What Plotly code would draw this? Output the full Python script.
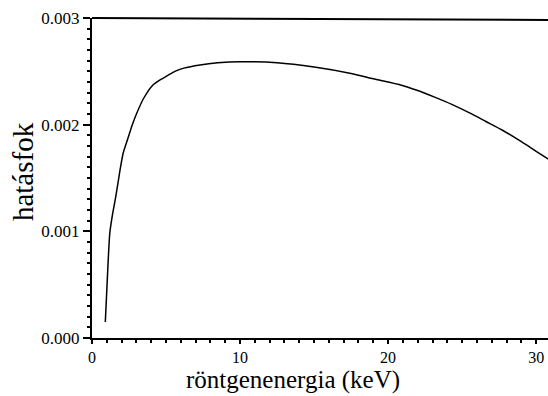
import plotly.graph_objects as go

energy_kev = [0.9, 1.0, 1.2, 1.4, 1.6, 1.9, 2.1, 2.4, 2.7, 3.0, 3.5, 4.1, 4.6, 5.1, 5.6, 6.2, 7.3, 8.5, 10.0, 12.5, 15.0, 17.5, 19.0, 20.9, 22.0, 23.1, 24.3, 25.5, 26.6, 27.7, 29.0, 30.0, 30.9]
efficiency = [0.00015, 0.00045, 0.00098, 0.00117, 0.00132, 0.00158, 0.00173, 0.00186, 0.00199, 0.00210, 0.00225, 0.00237, 0.00242, 0.00246, 0.00250, 0.00253, 0.00256, 0.00258, 0.00259, 0.00258, 0.00254, 0.00248, 0.00243, 0.00237, 0.00232, 0.00226, 0.00219, 0.00211, 0.00203, 0.00195, 0.00184, 0.00175, 0.00167]

x_tick_step = 10
y_tick_step = 0.001
x_title = "röntgenenergia (keV)"
y_title = "hatásfok"

fig = go.Figure()
fig.add_trace(go.Scatter(x=energy_kev, y=efficiency, mode="lines",
                         line=dict(color="black", width=1.5, shape="spline", smoothing=0.6),
                         showlegend=False))

FAM = "Liberation Serif, Times New Roman, serif"

fig.update_layout(
    width=548, height=396,
    margin=dict(l=92, r=0, t=18, b=58),
    paper_bgcolor="white", plot_bgcolor="white",
    font=dict(family=FAM, color="black", size=17),
)
fig.update_xaxes(range=[0, 30.8], tick0=0, dtick=x_tick_step,
                 showgrid=False, zeroline=False, showline=True, linecolor="black", linewidth=2,
                 ticks="outside", ticklen=4, tickwidth=1.5, tickcolor="black",
                 tickfont=dict(size=16, family=FAM, color="black"),
                 minor=dict(dtick=1, ticks="outside", ticklen=3, tickwidth=1.5, tickcolor="black", showgrid=False))
fig.update_yaxes(range=[0, 0.003], tick0=0, dtick=y_tick_step, tickformat=".3f",
                 showgrid=False, zeroline=False, showline=True, linecolor="black", linewidth=2,
                 ticks="outside", ticklen=7, tickwidth=1.5, tickcolor="black",
                 tickfont=dict(size=17, family=FAM, color="black"),
                 minor=dict(dtick=0.0001, ticks="outside", ticklen=3, tickwidth=1.5, tickcolor="black", showgrid=False))
fig.add_shape(type="line", xref="paper", yref="paper", x0=0, x1=1, y0=1, y1=0.994,
              line=dict(color="black", width=2))
fig.add_annotation(text=x_title, xref="paper", yref="paper", x=0.441, y=-0.131,
                   xanchor="center", yanchor="middle", showarrow=False,
                   font=dict(size=25, family=FAM, color="black"))
fig.add_annotation(text=y_title, xref="paper", yref="paper", x=-0.151, y=0.519,
                   xanchor="center", yanchor="middle", showarrow=False, textangle=-90,
                   font=dict(size=29, family=FAM, color="black"))

fig.write_html("out.html")
